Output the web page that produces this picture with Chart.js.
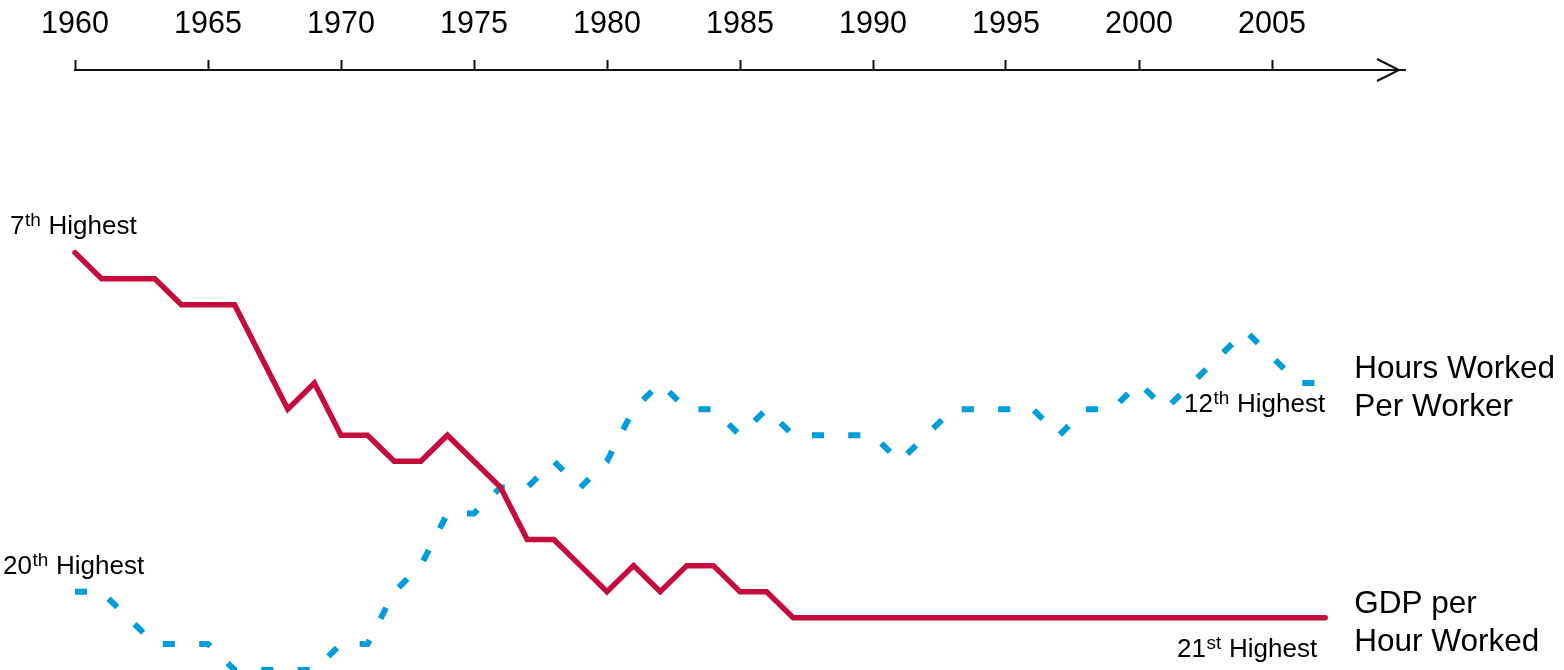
<!DOCTYPE html>
<html><head><meta charset="utf-8">
<script src="https://cdn.jsdelivr.net/npm/chart.js@4.4.0/dist/chart.umd.min.js"></script>
<style>html,body{margin:0;padding:0;background:#fff;overflow:hidden}canvas{display:block}</style>
</head><body>
<canvas id="c" width="1564" height="670"></canvas>
<script>
const years = [1960,1961,1962,1963,1964,1965,1966,1967,1968,1969,
  1970,1971,1972,1973,1974,1975,1976,1977,1978,1979,
  1980,1981,1982,1983,1984,1985,1986,1987,1988,1989,
  1990,1991,1992,1993,1994,1995,1996,1997,1998,1999,
  2000,2001,2002,2003,2004,2005,2006,2007];
// Rank (1 = highest) of GDP per hour worked
const gdpRank = [7,8,8,8,9,9,9,11,13,12,
  14,14,15,15,14,15,16,18,18,19,
  20,19,20,19,19,20,20,21,21,21,
  21,21,21,21,21,21,21,21,21,21,
  21,21,21,21,21,21,21,21];
// Rank of hours worked per worker
const hoursRank = [20,20,21,22,22,22,23,23,23,23,
  22,22,20,19,17,17,16,16,15,16,
  15,13,12,13,13,14,13,14,14,14,
  14,15,14,13,13,13,13,14,13,13,
  12,13,12,11,10,11,12,12];
const tickYears = [1960,1965,1970,1975,1980,1985,1990,1995,2000,2005];
const seriesNames = [["Hours Worked","Per Worker"],["GDP per","Hour Worked"]];
const rankLabels = {gdpStart:["7","th"], gdpEnd:["21","st"], hoursStart:["20","th"], hoursEnd:["12","th"]};

const FONT = '"Liberation Sans", Arial, Helvetica, sans-serif';
const RED = '#C40D3C', BLUE = '#009DDB';

function drawSup(ctx, x, y, parts, rest, size, align){
  const supSize = Math.round(size*0.72);
  ctx.font = size+'px '+FONT;
  const w1 = ctx.measureText(parts[0]).width;
  const w3 = ctx.measureText(rest).width;
  ctx.font = supSize+'px '+FONT;
  const w2 = ctx.measureText(parts[1]).width + 1;
  const total = w1+w2+w3;
  let sx = align==='right' ? x-total : x;
  ctx.textAlign='left'; ctx.textBaseline='alphabetic'; ctx.fillStyle='#000';
  ctx.font = size+'px '+FONT; ctx.fillText(parts[0], sx, y);
  ctx.font = supSize+'px '+FONT; ctx.fillText(parts[1], sx+w1+0.5, y-size*0.31);
  ctx.font = size+'px '+FONT; ctx.fillText(rest, sx+w1+w2, y);
}

const decor = {
  id:'decor',
  afterDraw(chart){
    const ctx = chart.ctx, xs = chart.scales.x, ys = chart.scales.y, ca = chart.chartArea;
    ctx.save();
    // arrow head at end of time axis
    ctx.strokeStyle='#111'; ctx.lineWidth=2;
    ctx.beginPath();
    ctx.moveTo(ca.right-28, ca.top-11); ctx.lineTo(ca.right-6, ca.top); ctx.lineTo(ca.right-28, ca.top+11);
    ctx.stroke();
    const xN = xs.getPixelForValue(years[years.length-1]);
    drawSup(ctx, 10, ys.getPixelForValue(gdpRank[0])-19, rankLabels.gdpStart, ' Highest', 26, 'left');
    drawSup(ctx, 3, ys.getPixelForValue(hoursRank[0])-18, rankLabels.hoursStart, ' Highest', 26, 'left');
    drawSup(ctx, xN, ys.getPixelForValue(hoursRank[hoursRank.length-1])+29, rankLabels.hoursEnd, ' Highest', 26, 'right');
    drawSup(ctx, xN-8, ys.getPixelForValue(gdpRank[gdpRank.length-1])+39, rankLabels.gdpEnd, ' Highest', 26, 'right');
    ctx.font='31.5px '+FONT; ctx.fillStyle='#000'; ctx.textAlign='left'; ctx.textBaseline='alphabetic';
    const lx = xN + 29;
    ctx.fillText(seriesNames[0][0], lx, 378);
    ctx.fillText(seriesNames[0][1], lx, 416);
    ctx.fillText(seriesNames[1][0], lx, 613);
    ctx.fillText(seriesNames[1][1], lx, 651);
    ctx.restore();
  }
};

new Chart(document.getElementById('c'), {
  type:'line',
  data:{
    datasets:[
      {label:'GDP per Hour Worked', data: years.map((y,i)=>({x:y, y:gdpRank[i]})),
       borderColor:RED, borderWidth:5.5, pointRadius:0, tension:0, clip:false,
       borderCapStyle:'round', borderJoinStyle:'miter', fill:false},
      {label:'Hours Worked Per Worker', data: years.map((y,i)=>({x:y, y:hoursRank[i]})),
       borderColor:BLUE, borderWidth:6, pointRadius:0, tension:0, clip:false,
       borderDash:[12.12,24.25], borderCapStyle:'butt', borderJoinStyle:'miter', fill:false}
    ]
  },
  options:{
    responsive:false, animation:false, devicePixelRatio:1,
    layout:{padding:{left:75, right:159, top:0, bottom:0}},
    plugins:{legend:{display:false}, tooltip:{enabled:false}},
    scales:{
      x:{type:'linear', position:'top', min:1960, max:2010,
        afterFit(s){ s.height = 70; },
        afterBuildTicks(s){ s.ticks = tickYears.concat([2010]).map(v=>({value:v})); },
        ticks:{stepSize:5, padding:17, color:'#000', font:{family:FONT, size:30.5},
          maxRotation:0, autoSkip:false,
          callback:(v)=> tickYears.includes(v) ? String(v) : null},
        grid:{drawOnChartArea:false, drawTicks:true, tickLength:10, tickColor:'#111', tickWidth:2},
        border:{display:true, color:'#111', width:2}
      },
      y:{display:false, min:0, max:23, reverse:true}
    }
  },
  plugins:[decor]
});
</script>
</body></html>
